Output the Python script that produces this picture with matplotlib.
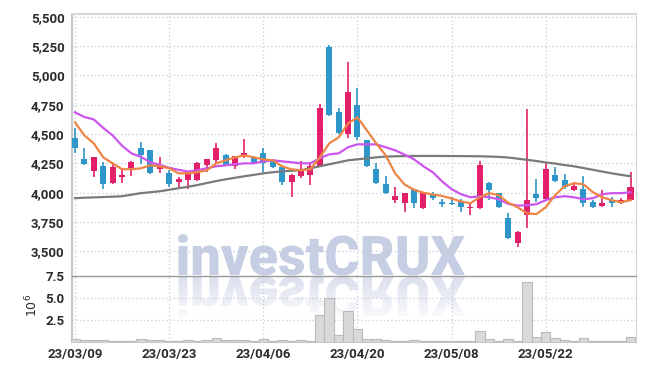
import numpy as np
import matplotlib
matplotlib.use('Agg')
import matplotlib.pyplot as plt
from matplotlib.textpath import TextPath
from matplotlib.patches import PathPatch
from matplotlib.font_manager import FontProperties
from matplotlib.transforms import Affine2D
from matplotlib.colors import LinearSegmentedColormap

# daily candles (60 trading days), price in KRW
opens = [4470, 4290, 4185, 4230, 4080, 4130, 4210, 4385, 4360, 4205,
         4165, 4090, 4105, 4105, 4235, 4275, 4325, 4225, 4325, 4300,
         4335, 4270, 4215, 4090, 4140, 4150, 4225, 5245, 4685, 4500,
         4750, 4445, 4200, 4070, 3935, 3910, 4030, 3870, 3985, 3920,
         3910, 3925, 3868, 3870, 4080, 3995, 3785, 3570, 3810, 3985,
         3945, 4150, 4105, 4020, 4030, 3920, 3885, 3935, 3910, 3935]
highs = [4550, 4385, 4305, 4260, 4250, 4200, 4270, 4435, 4365, 4300,
         4190, 4130, 4180, 4260, 4290, 4420, 4330, 4315, 4460, 4310,
         4385, 4290, 4220, 4155, 4270, 4260, 4755, 5260, 4720, 5110,
         4895, 4445, 4250, 4140, 4045, 4000, 4035, 4005, 4005, 3945,
         3960, 3945, 3910, 4270, 4090, 4000, 3825, 3670, 4710, 4120,
         4260, 4215, 4155, 4090, 4140, 3935, 4020, 3960, 3955, 4180]
lows = [4335, 4240, 4130, 4030, 4075, 4080, 4140, 4245, 4160, 4165,
        4045, 4050, 4030, 4100, 4175, 4245, 4230, 4205, 4295, 4245,
        4180, 4210, 4065, 3960, 4125, 4065, 4220, 4655, 4500, 4470,
        4450, 4220, 4075, 3990, 3910, 3835, 3870, 3865, 3940, 3875,
        3895, 3835, 3810, 3865, 3935, 3870, 3605, 3535, 3700, 3920,
        3940, 4090, 4030, 4015, 3875, 3870, 3880, 3875, 3905, 3930]
closes = [4380, 4245, 4300, 4070, 4215, 4150, 4265, 4325, 4165, 4235,
          4070, 4115, 4175, 4250, 4285, 4385, 4235, 4310, 4335, 4250,
          4250, 4215, 4090, 4150, 4195, 4225, 4720, 4660, 4505, 4855,
          4475, 4225, 4080, 3995, 3970, 3995, 3910, 3995, 3955, 3900,
          3905, 3875, 3878, 4235, 4020, 3875, 3610, 3665, 3935, 3955,
          4200, 4100, 4045, 4055, 3910, 3880, 3910, 3910, 3935, 4045]

# moving averages
ma5 = [4600, 4488, 4420, 4301, 4250, 4200, 4200, 4208, 4233, 4225,
       4208, 4165, 4165, 4174, 4191, 4250, 4276, 4301, 4318, 4301,
       4284, 4276, 4225, 4199, 4191, 4199, 4301, 4420, 4471, 4590,
       4641, 4531, 4420, 4318, 4165, 4070, 4025, 4000, 3985, 3972,
       3950, 3925, 3910, 3961, 3996, 3979, 3915, 3876, 3825, 3817,
       3876, 3979, 4055, 4080, 4072, 4004, 3961, 3936, 3919, 3936]
ma20 = [4685, 4645, 4624, 4552, 4488, 4400, 4335, 4305, 4259, 4237,
        4212, 4195, 4180, 4191, 4208, 4225, 4233, 4242, 4250, 4250,
        4267, 4276, 4267, 4259, 4250, 4250, 4293, 4327, 4335, 4387,
        4412, 4412, 4412, 4387, 4361, 4325, 4285, 4225, 4174, 4095,
        4030, 3987, 3961, 3970, 3961, 3944, 3905, 3890, 3893, 3902,
        3936, 3961, 3970, 3961, 3944, 3953, 3987, 3996, 3996, 4004]
ma60 = [3953, 3957, 3960, 3963, 3966, 3970, 3983, 3996, 4004, 4012,
        4025, 4038, 4050, 4065, 4082, 4099, 4114, 4127, 4140, 4152,
        4165, 4174, 4182, 4187, 4191, 4208, 4225, 4242, 4259, 4276,
        4284, 4293, 4301, 4308, 4310, 4312, 4313, 4313, 4313, 4313,
        4312, 4312, 4311, 4310, 4308, 4305, 4300, 4290, 4280, 4270,
        4258, 4248, 4235, 4225, 4210, 4195, 4180, 4165, 4152, 4140]

# volume, millions of shares
volume = [0.25, 0.15, 0.12, 0.12, 0.03, 0.03, 0.03, 0.3, 0.18, 0.18,
          0.08, 0.1, 0.15, 0.05, 0.15, 0.4, 0.18, 0.18, 0.15, 0.05,
          0.3, 0.05, 0.18, 0.1, 0.18, 0.1, 3.05, 5.0, 0.75, 3.5,
          1.4, 0.3, 0.25, 0.18, 0.1, 0.1, 0.18, 0.1, 0.05, 0.05,
          0.05, 0.05, 0.1, 1.2, 0.3, 0.1, 0.3, 0.1, 6.85, 0.55,
          1.08, 0.38, 0.15, 0.05, 0.38, 0.1, 0.05, 0.05, 0.02, 0.53]

date_ticks = [0, 10, 20, 30, 40, 50]
date_labels = ['23/03/09', '23/03/23', '23/04/06', '23/04/20', '23/05/08', '23/05/22']
price_ticks = [3500, 3750, 4000, 4250, 4500, 4750, 5000, 5250, 5500]
vol_ticks = [2.5, 5.0, 7.5]

RED = '#e2206a'
BLUE = '#2e96c8'
GRID = '#c9cbdc'
TXT = '#2b2b2b'
FONT = 'Roboto'

W, H = 645, 370
fig = plt.figure(figsize=(W / 100, H / 100), dpi=100)


def rect(l, t, r, b):
    return [l / W, 1 - b / H, (r - l) / W, (b - t) / H]


# background layer in pixel coords for the watermark
bg = fig.add_axes([0, 0, 1, 1], zorder=-1)
fp = FontProperties(family='Roboto', weight='black')
tp = TextPath((0, 0), 'investCRUX', size=100, prop=fp)
ext = tp.get_extents()
sx = (465 - 178) / ext.width
sy = 39 / 71.1
tr_top = Affine2D().translate(-ext.x0, 0).scale(sx, -sy).translate(178, 275) + bg.transData
bg.add_patch(PathPatch(tp, transform=tr_top, facecolor='#c6cee3', edgecolor='none'))
tr_ref = Affine2D().translate(-ext.x0, 0).scale(sx, sy).translate(178, 277) + bg.transData
ref = PathPatch(tp, transform=tr_ref, facecolor='none', edgecolor='none')
bg.add_patch(ref)
cmap = LinearSegmentedColormap.from_list('fade', ['#dbdfed', '#fbfbfd'])
img = bg.imshow(np.linspace(0, 1, 100).reshape(-1, 1), cmap=cmap, aspect='auto',
                extent=[170, 470, 318, 277], origin='upper')
img.set_clip_path(ref)
bg.set_xlim(0, W)
bg.set_ylim(H, 0)
bg.axis('off')

x = np.arange(len(closes))
o = np.array(opens)
c = np.array(closes)
colors = [RED if cc >= oo else BLUE for oo, cc in zip(opens, closes)]

# price panel
ax = fig.add_axes(rect(71.5, 13.5, 635.5, 276), facecolor='none')
ax.vlines(x, lows, highs, color=colors, lw=1.2, zorder=3)
ax.bar(x, np.maximum(np.abs(c - o), 8), bottom=np.minimum(o, c), width=0.64,
       color=colors, zorder=4)
ax.plot(x, ma60, color='#7a7a7a', lw=1.6, zorder=5)
ax.plot(x, ma20, color='#cc55ee', lw=1.6, zorder=5)
ax.plot(x, ma5, color='#ee8545', lw=1.6, zorder=5)
ax.set_xlim(-0.37, 59.53)
ax.set_ylim(3290, 5527)
ax.set_yticks(price_ticks)
ax.set_yticklabels([f'{v:,}' for v in price_ticks])
ax.set_xticks(date_ticks)
ax.set_xticklabels([])
ax.grid(True, color=GRID, ls=(0, (1, 2)), lw=0.9)
ax.set_axisbelow(True)
ax.tick_params(length=0, pad=5, labelsize=9.5, labelcolor=TXT)
for lab in ax.get_yticklabels():
    lab.set_fontfamily(FONT)
    lab.set_fontweight('bold')
ax.spines['bottom'].set_visible(False)
ax.spines['top'].set_color('#d6d6d6')
ax.spines['top'].set_linewidth(1.5)
ax.spines['left'].set_color('#c6c6cc')
ax.spines['left'].set_linewidth(1.5)
ax.spines['right'].set_color('#d6d6d6')

# volume panel
vax = fig.add_axes(rect(71.5, 276, 635.5, 341.5), facecolor='none')
vax.bar(x, volume, width=1.0, color='#d9d9d9', edgecolor='#b9b9b9', lw=0.8, zorder=3)
vax.set_xlim(-0.37, 59.53)
vax.set_ylim(0, 7.5)
vax.set_yticks(vol_ticks)
vax.set_yticklabels([f'{v:.1f}' for v in vol_ticks])
vax.set_xticks(date_ticks)
vax.set_xticklabels(date_labels)
vax.grid(True, color=GRID, ls=(0, (1, 2)), lw=0.9)
vax.set_axisbelow(True)
vax.tick_params(length=0, pad=5, labelsize=9.5, labelcolor=TXT)
for lab in vax.get_yticklabels() + vax.get_xticklabels():
    lab.set_fontfamily(FONT)
    lab.set_fontweight('bold')
vax.spines['top'].set_color('#9a9a9a')
vax.spines['top'].set_linewidth(1.0)
vax.spines['bottom'].set_color('#c6c6cc')
vax.spines['bottom'].set_linewidth(1.5)
vax.spines['left'].set_color('#c6c6cc')
vax.spines['left'].set_linewidth(1.5)
vax.spines['right'].set_color('#d6d6d6')

fig.text(32 / W, 1 - 305 / H, r'$10^6$', rotation=90, ha='center', va='center',
         fontsize=9, color=TXT)

fig.savefig('out.png', dpi=100, facecolor='white')
